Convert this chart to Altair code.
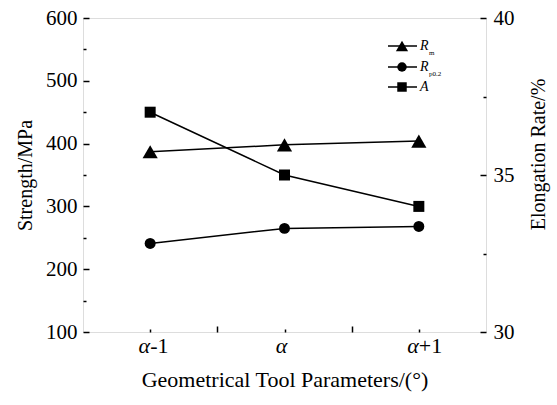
import altair as alt
import pandas as pd

# ---- data ----
positions = [1, 2, 3]
alpha_part = ["α", "α", "α"]
suffix_part = ["-1", "", "+1"]
rm = [387, 398, 404]
rp02 = [241, 265, 268]
elong = [37.0, 35.0, 34.0]

strength_major = [100, 200, 300, 400, 500, 600]
strength_minor = [150, 250, 350, 450, 550]
elong_major = [30, 35, 40]
elong_minor = [32.5, 37.5]
x_major = [1.5, 2.5]
x_minor = [1, 2, 3]

df = pd.DataFrame({"x": positions, "Rm": rm, "Rp": rp02, "A": elong})
lab = pd.DataFrame({"x": positions, "alpha": alpha_part, "suffix": suffix_part})

FONT = "Liberation Serif"
xs = alt.Scale(domain=[0.5, 3.5], nice=False, zero=False)
ys = alt.Scale(domain=[100, 600], nice=False, zero=False)
es = alt.Scale(domain=[30, 40], nice=False, zero=False)

base = alt.Chart(df)
X = alt.X("x:Q", scale=xs, axis=None)


def yaxis(orient, values, size, labels, title=None, **kw):
    opts = dict(orient=orient, values=values, tickSize=size, offset=-size,
                domain=False, grid=False, labels=labels, tickColor="black",
                tickWidth=1.5, labelFont=FONT, labelFontSize=21,
                labelColor="black", titleFont=FONT, titleFontSize=20,
                titleFontWeight="normal", titleColor="black")
    opts["title"] = title if title is not None else None
    opts.update(kw)
    return alt.Axis(**opts)


left_major = yaxis("left", strength_major, 6, True, "Strength/MPa",
                   labelPadding=6, titlePadding=10)
left_minor = yaxis("left", strength_minor, 3, False)
right_major = yaxis("right", elong_major, 6, True, "Elongation Rate/%",
                    labelPadding=7, titlePadding=34, titleAngle=270, titleY=136)
right_minor = yaxis("right", elong_minor, 3, False)

x_major_axis = alt.Axis(orient="bottom", values=x_major, tickSize=6, offset=-6,
                        domain=False, grid=False, labels=False, tickColor="black",
                        tickWidth=1.5, title="Geometrical Tool Parameters/(°)",
                        titleFont=FONT, titleFontSize=22, titleFontWeight="normal",
                        titleColor="black", titlePadding=37)
x_minor_axis = alt.Axis(orient="bottom", values=x_minor, tickSize=3, offset=-3,
                        domain=False, grid=False, labels=False, tickColor="black",
                        tickWidth=1.5, title=None)

line_kw = dict(color="black", strokeWidth=1.5)

rm_line = base.mark_line(**line_kw).encode(
    x=alt.X("x:Q", scale=xs, axis=x_major_axis),
    y=alt.Y("Rm:Q", scale=ys, axis=left_major))
rm_pts = base.mark_point(shape="triangle-up", filled=True, size=230,
                         color="black", opacity=1).encode(
    x=X, y=alt.Y("Rm:Q", scale=ys, axis=None))
rp_line = base.mark_line(**line_kw).encode(
    x=alt.X("x:Q", scale=xs, axis=x_minor_axis),
    y=alt.Y("Rp:Q", scale=ys, axis=left_minor))
rp_pts = base.mark_point(shape="circle", filled=True, size=120,
                         color="black", opacity=1).encode(
    x=X, y=alt.Y("Rp:Q", scale=ys, axis=None))
a_line = base.mark_line(**line_kw).encode(
    x=X, y=alt.Y("A:Q", scale=es, axis=right_major))
a_pts = base.mark_point(shape="square", filled=True, size=121,
                        color="black", opacity=1).encode(
    x=X, y=alt.Y("A:Q", scale=es, axis=right_minor))

# x tick labels (italic alpha + upright suffix)
lbase = alt.Chart(lab)
alpha_side = lbase.transform_filter("datum.suffix != ''").mark_text(
    font=FONT, fontSize=22, fontStyle="italic", align="right", baseline="middle",
    dx=0, color="black").encode(
    x=X, y=alt.value(328), text="alpha:N")
alpha_mid = lbase.transform_filter("datum.suffix == ''").mark_text(
    font=FONT, fontSize=22, fontStyle="italic", align="center", baseline="middle",
    dx=-3, color="black").encode(
    x=X, y=alt.value(328), text="alpha:N")
suffix_txt = lbase.transform_filter("datum.suffix != ''").mark_text(
    font=FONT, fontSize=22, align="left", baseline="middle", dx=0,
    color="black").encode(
    x=X, y=alt.value(328), text="suffix:N")

# legend
leg_x1, leg_x2, leg_m, leg_t = 305, 334, 319, 337
rows = [28, 49, 69]
shapes = [("triangle-up", 150), ("circle", 90), ("square", 90)]
main_txt = ["R", "R", "A"]
sub_txt = ["m", "p0.2", ""]

legend_layers = []
for (shp, sz), yy, mt, st in zip(shapes, rows, main_txt, sub_txt):
    one = alt.Chart(alt.Data(values=[{"k": mt}]))
    legend_layers.append(one.mark_rule(color="black", strokeWidth=1.5).encode(
        x=alt.value(leg_x1), x2=alt.value(leg_x2), y=alt.value(yy)))
    legend_layers.append(one.mark_point(shape=shp, filled=True, size=sz,
                                        color="black", opacity=1).encode(
        x=alt.value(leg_m), y=alt.value(yy)))
    legend_layers.append(one.mark_text(font=FONT, fontSize=14, fontStyle="italic",
                                       align="left", baseline="middle",
                                       color="black").encode(
        x=alt.value(leg_t), y=alt.value(yy), text=alt.value(mt)))
    if st:
        legend_layers.append(one.mark_text(font=FONT, fontSize=7, align="left",
                                           baseline="middle", color="black").encode(
            x=alt.value(leg_t + 9), y=alt.value(yy + 7), text=alt.value(st)))

chart = alt.layer(
    rm_line, rp_line, a_line, a_pts, rm_pts, rp_pts,
    alpha_side, alpha_mid, suffix_txt, *legend_layers
).resolve_scale(x="independent", y="independent").properties(
    width=403, height=314,
    autosize=alt.AutoSizeParams(type="none"),
    padding={"left": 83, "top": 18, "right": 71, "bottom": 73},
).configure_view(stroke="black", strokeWidth=1.5).configure(background="white")

chart.save("out.html", embed_options={"renderer": "svg", "actions": False})
